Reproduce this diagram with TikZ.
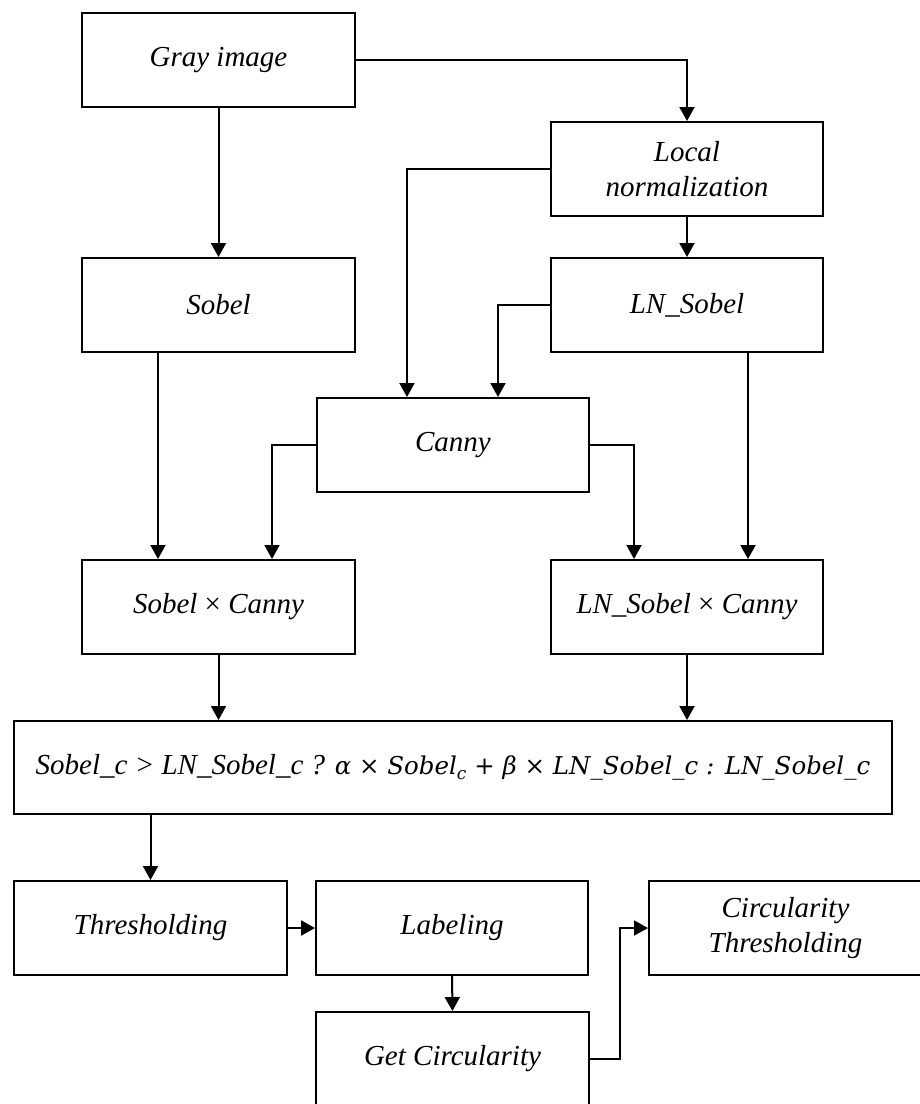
\documentclass[tikz,border=0pt]{standalone}
\usepackage{fontspec}
\setmainfont{Liberation Serif}
\newfontfamily\mathlike{DejaVu Serif}
\usetikzlibrary{arrows.meta,calc}
\tikzset{
  box/.style={draw,line width=2pt,minimum width=273pt,minimum height=94pt,inner sep=0pt,align=center,
    font=\itshape\fontsize{29}{35}\selectfont},
  conn/.style={line width=2pt,-{Triangle[length=14pt,width=15pt]}},
}
\begin{document}
\begin{tikzpicture}[x=1pt,y=-1pt]
\useasboundingbox (0,0) rectangle (920,1104);
\node[box] (gray) at (218.5,60) {Gray image};
\node[box,minimum width=272pt] (localn) at (687,169) {Local\\normalization};
\node[box] (sobel) at (218.5,305) {Sobel};
\node[box,minimum width=272pt] (lnsobel) at (687,305) {LN\_Sobel};
\node[box,minimum width=272pt] (canny) at (453,445) {Canny};
\node[box] (sxc) at (218.5,607) {Sobel {\upshape×} Canny};
\node[box,minimum width=272pt] (lnxc) at (687,607) {LN\_Sobel {\upshape×} Canny};
\node[box,minimum width=878pt,minimum height=93pt] (formula) at (453,767.5)
  {Sobel\_c > LN\_Sobel\_c ? {\mathlike\fontsize{24.5}{30}\selectfont α {\upshape×} Sobel\raisebox{-5pt}{\fontsize{17}{20}\selectfont c} {\upshape+} β {\upshape×} LN\_Sobel\_c : LN\_Sobel\_c}};
\node[box] (thresh) at (150.5,928) {Thresholding};
\node[box,minimum width=272pt] (label) at (452,928) {Labeling};
\node[box] (circth) at (785.5,928) {Circularity\\Thresholding};
\node[box] (getcirc) at (452.5,1059) {Get Circularity};

\draw[conn] (gray.east) -| (localn.north);
\draw[conn] (gray.south) -- (sobel.north);
\draw[conn] (localn.west) -| ([xshift=-46pt]canny.north);
\draw[conn] (localn.south) -- (lnsobel.north);
\draw[conn] (lnsobel.west) -| ([xshift=45pt]canny.north);
\draw[conn] ([xshift=-60.5pt]sobel.south) -- ([xshift=-60.5pt]sxc.north);
\draw[conn] (canny.west) -| ([xshift=53.5pt]sxc.north);
\draw[conn] (canny.east) -| ([xshift=-53pt]lnxc.north);
\draw[conn] ([xshift=61pt]lnsobel.south) -- ([xshift=61pt]lnxc.north);
\draw[conn] (sxc.south) -- (sxc.south |- formula.north);
\draw[conn] (lnxc.south) -- (lnxc.south |- formula.north);
\draw[conn] (thresh.north |- formula.south) -- (thresh.north);
\draw[conn] (thresh.east) -- (label.west);
\draw[conn] (label.south) -- (getcirc.north);
\draw[conn] (getcirc.east) -- ++(30,0) |- (circth.west);
\end{tikzpicture}
\end{document}
